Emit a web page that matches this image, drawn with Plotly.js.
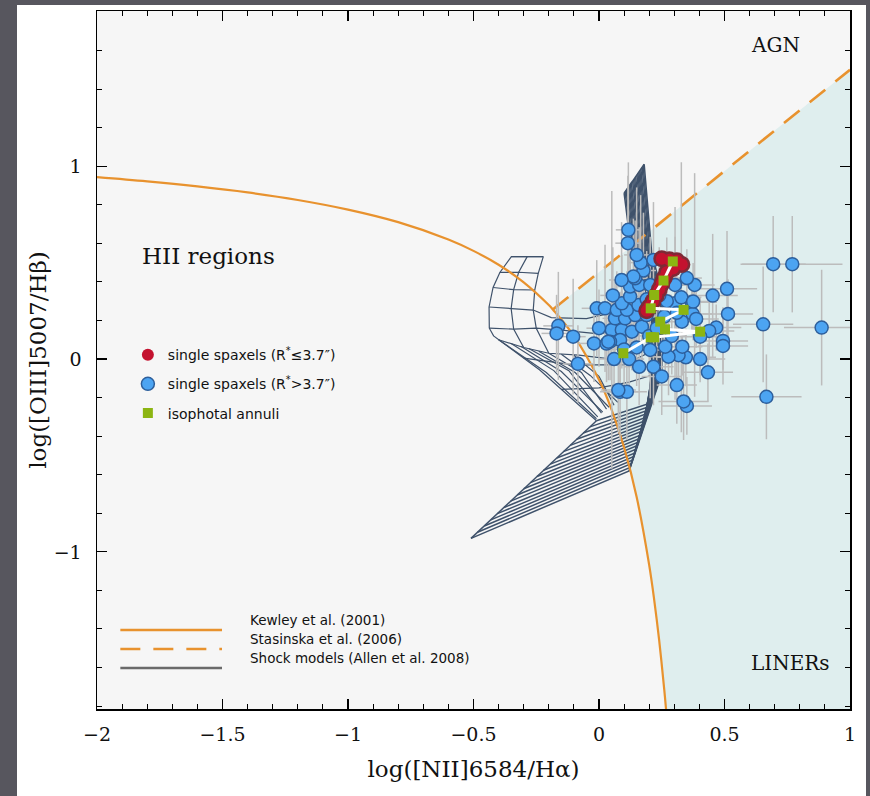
<!DOCTYPE html>
<html><head><meta charset="utf-8">
<script src="https://cdn.plot.ly/plotly-3.0.1.min.js"></script>
<style>
html,body{margin:0;padding:0;background:#57565e;width:870px;height:796px;overflow:hidden}
#plot{position:absolute;left:17px;top:5px;width:849px;height:791px;background:#fff}
</style></head><body><div id="plot"></div>
<script>
// ---------- Demarcation lines ----------
const kewX = [-2.0,-1.8,-1.6,-1.4,-1.2,-1.0,-0.8,-0.6,-0.5,-0.4,-0.3,-0.2,-0.184,-0.1,0.0,0.05,0.1,0.15,0.2,0.22,0.24,0.26,0.267];
const kewY = [0.943,0.921,0.895,0.864,0.825,0.775,0.710,0.620,0.561,0.489,0.398,0.280,0.257,0.120,-0.108,-0.262,-0.459,-0.716,-1.069,-1.250,-1.462,-1.715,-1.815];
const stasX = [-0.184, 1.0];
const stasY = [0.257, 1.50];

// ---------- Observations ----------
const blueX = [0.694,0.770,0.887,0.654,0.667,0.510,0.514,0.453,0.381,0.370,0.373,0.387,0.467,0.439,0.403,0.494,0.494,0.403,0.346,0.434,0.350,0.337,0.310,0.317,0.277,0.264,0.332,0.330,0.303,0.328,0.303,0.350,0.204,0.217,0.084,0.111,0.051,0.091,0.131,0.171,0.084,0.044,-0.020,-0.103,-0.162,-0.169,-0.084,-0.009,0.024,0.064,0.104,0.144,0.190,0.071,0.111,0.091,0.157,0.124,0.124,0.160,0.204,0.144,0.177,0.166,0.150,0.217,0.117,0.115,0.137,0.375,0.030,0.000,0.200,0.230,0.260,0.270,0.240,0.100,0.150,0.120,0.160,0.060,0.250,0.290,0.310,0.190,0.055,0.090,0.037,0.077];
const blueY = [0.492,0.492,0.163,0.180,-0.196,0.364,0.234,0.329,0.384,0.294,0.234,0.208,0.163,0.146,0.116,0.094,0.068,0.000,0.009,-0.069,-0.243,-0.220,-0.135,0.020,0.012,0.064,0.064,0.194,0.289,0.320,0.384,0.420,0.047,-0.040,-0.170,-0.170,0.151,0.151,0.142,0.168,0.099,0.090,0.081,0.116,0.172,0.133,-0.025,0.263,0.263,0.211,0.211,0.228,0.228,0.255,0.255,0.289,0.280,0.324,0.376,0.384,0.384,0.419,0.459,0.500,0.540,0.514,0.670,0.601,0.428,0.298,0.080,0.160,0.120,0.160,0.220,0.300,0.330,0.050,0.060,0.000,-0.040,0.000,-0.090,0.120,0.240,0.310,0.330,0.410,0.090,-0.161];
const blueEx = [0.13,0.20,0.15,0.12,0.14,0.12,0.10,0.10,0.08,0.10,0.08,0.09,0.10,0.10,0.08,0.10,0.10,0.10,0.12,0.10,0.10,0.10,0.08,0.06,0.08,0.06,0.08,0.07,0.06,0.08,0.08,0.06,0.06,0.08,0.08,0.08,0.06,0.06,0.06,0.05,0.06,0.06,0.06,0.05,0.06,0.06,0.06,0.06,0.06,0.05,0.05,0.05,0.05,0.05,0.05,0.05,0.05,0.05,0.05,0.05,0.05,0.05,0.05,0.05,0.05,0.05,0.05,0.05,0.05,0.08,0.06,0.05,0.05,0.06,0.05,0.05,0.05,0.06,0.06,0.06,0.06,0.06,0.08,0.06,0.05,0.05,0.05,0.05,0.06,0.07];
const blueEy = [0.25,0.25,0.30,0.30,0.22,0.30,0.18,0.32,0.58,0.15,0.12,0.15,0.12,0.15,0.20,0.15,0.20,0.12,0.15,0.15,0.15,0.20,0.20,0.15,0.20,0.15,0.15,0.12,0.50,0.70,0.25,0.15,0.25,0.20,0.25,0.25,0.72,0.20,0.20,0.20,0.25,0.20,0.20,0.30,0.28,0.20,0.20,0.25,0.33,0.20,0.20,0.20,0.20,0.20,0.20,0.25,0.25,0.25,0.30,0.30,0.25,0.30,0.30,0.35,0.35,0.30,0.35,0.35,0.30,0.20,0.20,0.20,0.20,0.20,0.20,0.33,0.25,0.20,0.20,0.20,0.20,0.20,0.20,0.20,0.20,0.25,0.25,0.30,0.20,0.22];

const redX = [0.250,0.280,0.310,0.330,0.295,0.270,0.260,0.250,0.240,0.228,0.215,0.200,0.190];
const redY = [0.520,0.515,0.510,0.490,0.470,0.450,0.420,0.390,0.360,0.330,0.300,0.270,0.250];

const annX = [0.294,0.257,0.220,0.206,0.337,0.244,0.263,0.403,0.220,0.206,0.097];
const annY = [0.506,0.407,0.332,0.263,0.255,0.194,0.154,0.142,0.113,0.113,0.030];

// ---------- Shock model grid (Allen et al. 2008), nodes ----------
const wingSx = [-0.510,-0.484,-0.457,-0.431,-0.405,-0.378,-0.352,-0.326,-0.300,-0.273,-0.247,-0.221,-0.194,-0.168,-0.142,-0.115,-0.089,-0.063,-0.036,-0.010];
const wingSy = [-0.930,-0.898,-0.866,-0.834,-0.802,-0.770,-0.737,-0.705,-0.673,-0.641,-0.609,-0.577,-0.545,-0.513,-0.480,-0.448,-0.416,-0.384,-0.352,-0.320];
const wingKx = [0.120,0.124,0.128,0.133,0.137,0.141,0.145,0.149,0.154,0.158,0.162,0.166,0.171,0.175,0.179,0.183,0.187,0.192,0.196,0.200];
const wingKy = [-0.580,-0.562,-0.543,-0.525,-0.506,-0.488,-0.469,-0.451,-0.433,-0.414,-0.396,-0.377,-0.359,-0.341,-0.322,-0.304,-0.285,-0.267,-0.248,-0.230];
const wingPx = [0.250,0.248,0.246,0.244,0.242,0.239,0.237,0.235,0.233,0.231,0.229,0.227,0.225,0.223,0.221,0.218,0.216,0.214,0.212,0.210];
const wingPy = [-0.08,-0.077,-0.074,-0.071,-0.068,-0.065,-0.062,-0.059,-0.056,-0.053,-0.050,-0.047,-0.044,-0.041,-0.038,-0.035,-0.032,-0.029,-0.026,-0.023];
const wingUx = [0.260,0.257,0.254,0.251,0.247,0.244,0.241,0.238,0.235,0.232,0.228,0.225,0.222,0.219,0.216,0.213,0.209,0.206,0.203,0.200];
const wingUy = [0.30,0.30,0.30,0.30,0.30,0.30,0.30,0.30,0.30,0.30,0.30,0.30,0.30,0.30,0.30,0.30,0.30,0.30,0.30,0.30];
const wingVx = [0.210,0.206,0.202,0.197,0.193,0.189,0.185,0.181,0.176,0.172,0.168,0.164,0.159,0.155,0.151,0.147,0.143,0.138,0.134,0.130];
const wingVy = [0.55,0.55,0.55,0.55,0.55,0.55,0.55,0.55,0.55,0.55,0.55,0.55,0.55,0.55,0.55,0.55,0.55,0.55,0.55,0.55];
const wingWx = [0.180,0.176,0.172,0.167,0.163,0.159,0.155,0.151,0.146,0.142,0.138,0.134,0.129,0.125,0.121,0.117,0.113,0.108,0.104,0.100];
const wingWy = [1.010,1.002,0.994,0.986,0.978,0.971,0.963,0.955,0.947,0.939,0.931,0.923,0.915,0.907,0.899,0.892,0.884,0.876,0.868,0.860];

const hookLinesX = [
 [-0.349,-0.286,-0.222],
 [-0.395,-0.320,-0.242],
 [-0.422,-0.340,-0.256],
 [-0.438,-0.350,-0.262,-0.190,-0.050,0.120],
 [-0.437,-0.340,-0.250,-0.150,0.000,0.150],
 [-0.400,-0.300,-0.200,-0.080,0.050,0.170],
 [-0.222,-0.349,-0.395,-0.422,-0.438,-0.437,-0.420,-0.236,-0.010],
 [-0.286,-0.320,-0.340,-0.350,-0.340,-0.300],
 [-0.222,-0.242,-0.256,-0.262,-0.250,-0.200],
 [-0.400,-0.210,-0.010],
 [-0.350,-0.180,-0.005],
 [-0.310,-0.150,0.015],
 [-0.280,-0.120,0.010],
 [-0.240,-0.095,0.040],
 [-0.200,-0.070,0.030],
 [-0.150,-0.035,0.075],
 [-0.100,0.000,0.060],
 [-0.300,-0.100,0.100,0.210],
 [-0.150,0.000,0.120,0.220]
];
const hookLinesY = [
 [0.531,0.531,0.531],
 [0.449,0.450,0.444],
 [0.371,0.360,0.358],
 [0.270,0.262,0.254,0.215,0.210,0.260],
 [0.160,0.155,0.160,0.150,0.130,0.170],
 [0.100,0.060,0.030,0.020,0.000,0.050],
 [0.531,0.531,0.449,0.371,0.270,0.160,0.120,-0.057,-0.320],
 [0.531,0.450,0.360,0.262,0.155,0.060],
 [0.531,0.444,0.358,0.254,0.160,0.030],
 [0.100,-0.070,-0.310],
 [0.080,-0.060,-0.300],
 [0.065,-0.065,-0.275],
 [0.055,-0.060,-0.280],
 [0.040,-0.070,-0.250],
 [0.030,-0.070,-0.260],
 [0.025,-0.085,-0.225],
 [0.020,-0.090,-0.240],
 [0.005,-0.030,-0.030,0.040],
 [-0.157,-0.150,-0.120,-0.080]
];

// ---------- Build traces ----------
const wx = [], wy = [], hx = [], hy = [];
function addPoly(ax, ay, xs, ys){ for (let k=0;k<xs.length;k++){ ax.push(xs[k]); ay.push(ys[k]); } ax.push(null); ay.push(null); }
for (let i=0;i<wingSx.length;i++){
  addPoly(wx, wy, [wingSx[i],wingKx[i],wingPx[i],wingUx[i],wingVx[i],wingWx[i]],
          [wingSy[i],wingKy[i],wingPy[i],wingUy[i],wingVy[i],wingWy[i]]);
}
addPoly(wx, wy, wingSx, wingSy); addPoly(wx, wy, wingKx, wingKy); addPoly(wx, wy, wingWx, wingWy);
hookLinesX.forEach((r,k)=>addPoly(hx, hy, r, hookLinesY[k]));

// LINER region polygon: right of Kewley curve, below the Stasinska line
const yBot = -1.815, yTop = 1.805;
const polyX = [], polyY = [];
for (let i=0;i<kewX.length;i++){ if (kewX[i] >= stasX[0]) { polyX.push(kewX[i]); polyY.push(kewY[i]); } }
polyX.push(stasX[1]); polyY.push(yBot);
polyX.push(stasX[1]); polyY.push(stasY[1]);
polyX.push(stasX[0]); polyY.push(stasY[0]);

const orange = '#e8922e';
const gridCol = '#3f526b';
const traces = [
 {x: polyX, y: polyY, mode:'lines', fill:'toself', fillcolor:'#dfeeee', line:{width:0}, hoverinfo:'skip', showlegend:false},
 {x: hx, y: hy, mode:'lines', line:{color:gridCol, width:1.2}, hoverinfo:'skip', showlegend:false},
 {x: wx, y: wy, mode:'lines', line:{color:gridCol, width:1.5}, hoverinfo:'skip', showlegend:false},
 {x: kewX, y: kewY, mode:'lines', line:{color:orange, width:2.2, shape:'spline'}, showlegend:false, name:'Kewley et al. (2001)'},
 {x: stasX, y: stasY, mode:'lines', line:{color:orange, width:2.6, dash:'20px,13px'}, showlegend:false, name:'Stasinska et al. (2006)'},
 {x: blueX, y: blueY, mode:'markers', name:'single spaxels (R<sup>*</sup>>3.7″)', legendrank:2, legendgroup:'b',
  error_x:{type:'data', array:blueEx, color:'#bcbcbc', thickness:1.5, width:0},
  error_y:{type:'data', array:blueEy, color:'#bcbcbc', thickness:1.5, width:0},
  marker:{color:'#4ca4f2', size:13, line:{color:'#2d5f9c', width:1.5}}},
 {x: redX, y: redY, mode:'markers', showlegend:false, hoverinfo:'skip', marker:{color:'#7e2a36', size:17}},
 {x: redX, y: redY, mode:'markers', name:'single spaxels (R<sup>*</sup>≤3.7″)', legendrank:1, legendgroup:'a',
  marker:{color:'#c4122f', size:12, line:{color:'#b01028', width:0}}},
 {x: annX, y: annY, mode:'lines', line:{color:'#ffffff', width:3}, showlegend:false, hoverinfo:'skip'},
 {x: annX, y: annY, mode:'markers', name:'isophotal annuli', legendrank:3, legendgroup:'c',
  marker:{color:'#8cb512', size:10, symbol:'square'}}
];

const serif = 'DejaVu Serif, serif';
const axBase = {
  showgrid:false, zeroline:false, showline:true, linecolor:'#000', linewidth:1.5, mirror:'ticks',
  ticks:'inside', ticklen:10, tickwidth:1.2, tickcolor:'#000',
  tickfont:{family:serif, size:19, color:'#111'}
};
const lx0 = 0.031, lx1 = 0.166, ltx = 0.2005;
const ly = [0.1132, 0.0860, 0.0587];
const sans = 'DejaVu Sans, sans-serif';
const layout = {
  width:849, height:791,
  paper_bgcolor:'#ffffff', plot_bgcolor:'#f6f6f6',
  margin:{l:80, r:16, t:6, b:87},
  xaxis: Object.assign({}, axBase, {range:[-2,1], dtick:0.5, tick0:0,
    minor:{dtick:0.1, ticks:'inside', ticklen:5, tickcolor:'#000', tickwidth:1},
    ticklabelstandoff:8,
    title:{text:'log([NII]6584/Hα)', font:{family:serif, size:23, color:'#111'}, standoff:16}}),
  yaxis: Object.assign({}, axBase, {range:[yBot,yTop], dtick:1, tick0:0,
    minor:{dtick:0.2, ticks:'inside', ticklen:5, tickcolor:'#000', tickwidth:1},
    ticklabelstandoff:10,
    title:{text:'log([OIII]5007/Hβ)', font:{family:serif, size:23, color:'#111'}, standoff:0}}),
  showlegend:true,
  legend:{x:0.041, y:0.530, xanchor:'left', yanchor:'top', bgcolor:'rgba(0,0,0,0)',
    font:{family:sans, size:14, color:'#111'},
    traceorder:'grouped', tracegroupgap:8},
  shapes:[
    {type:'line', xref:'paper', yref:'paper', x0:lx0, x1:lx1, y0:ly[0], y1:ly[0], line:{color:orange, width:2.5}},
    {type:'line', xref:'paper', yref:'paper', x0:lx0, x1:lx1, y0:ly[1], y1:ly[1], line:{color:orange, width:2.5, dash:'20px,13px'}},
    {type:'line', xref:'paper', yref:'paper', x0:lx0, x1:lx1, y0:ly[2], y1:ly[2], line:{color:'#6a6a6a', width:2.5}}
  ],
  annotations:[
    {x:0.703, y:1.63, xref:'x', yref:'y', text:'AGN', showarrow:false, font:{family:serif, size:20, color:'#111'}},
    {x:-1.557, y:0.535, xref:'x', yref:'y', text:'HII regions', showarrow:false, font:{family:serif, size:23, color:'#111'}},
    {x:0.763, y:-1.574, xref:'x', yref:'y', text:'LINERs', showarrow:false, font:{family:serif, size:20, color:'#111'}},
    {x:ltx, y:ly[0], xref:'paper', yref:'paper', xanchor:'left', text:'Kewley et al. (2001)', showarrow:false, font:{family:sans, size:13.5, color:'#111'}},
    {x:ltx, y:ly[1], xref:'paper', yref:'paper', xanchor:'left', text:'Stasinska et al. (2006)', showarrow:false, font:{family:sans, size:13.5, color:'#111'}},
    {x:ltx, y:ly[2], xref:'paper', yref:'paper', xanchor:'left', text:'Shock models (Allen et al. 2008)', showarrow:false, font:{family:sans, size:13.5, color:'#111'}}
  ]
};
Plotly.newPlot('plot', traces, layout, {displayModeBar:false, staticPlot:true});
</script></body></html>
